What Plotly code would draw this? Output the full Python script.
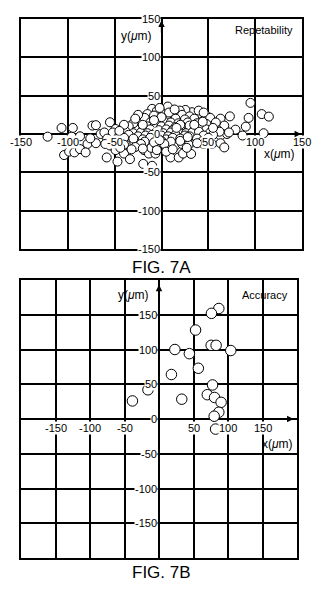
import plotly.graph_objects as go

# ---------------- data ----------------
rep_x = [95, 107, 114.6, 93, 73, 63, 90, 109, 79, 86.5, 55.7, 67, 63, 70, 41.5, 32.6, 25.5, 19.5, 39.7, 6.7,
         -10, -5, -15, -8,
         -121.6, -106.7, -94.7, -73.7, -70, -55, -65, -61, -49, -42, -27.7, -22, -96, -87, -79, -70, -76,
         -104, -98.6, -93, -87, -81, -58.5, -55, -47, -49, -40, -33.7, -34.5, -29, -19.5, -10, -18.7, -13.5,
         -6.5, -11, -4.7, 6, 9.6, 18.4, 23, 15, 22, 31.6, 29, 34, 54, 63, 67,
         2, 12, 22, 30, 48,
         -25, -18, -2, 5, 15, 25, 35, 45, 52,
         -30, -12, -5, 3, 10, 18, 28, 38, 48,
         -35, -15, -8, 0, 8, 15, 22, 30, 42,
         -20, -12, -3, 5, 12, 20, 35, 48, 60,
         -52, -38, -30, -22, -15, -6, 2, 10, 18, 26, 33, 40, 52, 62, 72,
         -45, -35, -25, -17, -10, 0, 7, 15, 25, 30, 45, 55,
         -58, -48, -40, -30, -20, -12, -4, 5, 12, 20, 38, 50,
         -45, -18, -8, 0, 10, 20, 44,
         -60, -50, -40, -22, 3, 29, 45,
         -44, -28, -20, 27,
         -5, 5,
         -25, -20, -28, 45, 58, 8, 14, -2, 0, 20, -8, 35, 44, -40, -45, 55, 28, 38, -32, 12, -2, 16]
rep_y = [40.6, 26, 22.7, 21, 23, 20, 9.6, 1, 5.7, -2, 11, 11, -2, 0, 26, 28.4, 31.4, 30.5, 30.5, 35.8,
         32.8, 30, 26, 24,
         -3.5, 7.9, 7.9, 11, 11.5, 15.3, 0, 2, 6.5, 7, 8.7, 15, -3.5, -3, -13, -12, -5.7,
         -27.5, -23, -24, -19.7, -24, -30.6, -15, -36, -21, -25.5, -32.8, -15, -11.5, -39, -41.5, -21, -25.5,
         -25.5, -18, -15.7, -17.5, -30.6, -30.6, -25.5, -15, -13, -26, -8, -10, -13, -12, -17.5,
         26, 24, 25, 23, 24,
         19, 21, 19, 21, 20, 19, 20, 18, 21,
         14, 15, 14, 16, 15, 14, 15, 14, 13,
         10, 10, 9, 10, 11, 9, 10, 11, 9,
         5, 6, 5, 6, 5, 6, 5, 6, 5,
         2, 3, 1, 2, 1, 2, 1, 2, 3, 1, 2, 3, 2, 3, 2,
         -2, -1, -3, -2, -1, -2, -3, -1, -2, -3, -2, -1,
         -6, -7, -5, -6, -7, -5, -6, -7, -5, -6, -6, -5,
         -10, -10, -11, -9, -10, -9, -9,
         -13, -12, -14, -13, -13, -14, -13,
         -18, -17, -19, -18,
         -21, -23,
         25, 12, 20, 28, 15, 28, 32, 34, 22, 12, 18, 12, 16, 12, 4, 8, -4, -12, -20, -20, -8, 8]

acc_x = [86.7, 76, 53, 75.6, 82.8, 104, 23, 44, 57, 18, 77.6, 70, 80.5, 90, 33, -38.5, 86.7, 80, 82, -16]
acc_y = [159, 152, 128, 106, 106, 98.5, 100, 94, 73, 64, 49, 35, 31, 24, 28.5, 26, 9.7, 4, -14.5, 42]

top_xticks = [-150, -100, -50, 50, 100, 150]
top_yticks = [150, 100, 50, 0, -50, -100, -150]
bot_xticks = [-150, -100, -50, 50, 100, 150]
bot_yticks = [150, 100, 50, 0, -50, -100, -150]

FONT = "Liberation Sans, Arial, sans-serif"

fig = go.Figure()
fig.add_trace(go.Scatter(x=rep_x, y=rep_y, mode="markers", xaxis="x", yaxis="y",
                         marker=dict(size=9, color="white", line=dict(color="black", width=1)),
                         showlegend=False, hoverinfo="skip"))
fig.add_trace(go.Scatter(x=acc_x, y=acc_y, mode="markers", xaxis="x2", yaxis="y2",
                         marker=dict(size=10.5, color="white", line=dict(color="black", width=1)),
                         showlegend=False, hoverinfo="skip"))

def ax(rng, dom, anchor):
    return dict(range=rng, domain=dom, anchor=anchor, dtick=50, tick0=0,
                showgrid=True, gridcolor="black", gridwidth=1.6,
                zeroline=True, zerolinecolor="black", zerolinewidth=1.6,
                showline=True, mirror=True, linecolor="black", linewidth=2,
                showticklabels=False, ticks="", fixedrange=True)

layout = dict(
    width=322, height=596, margin=dict(l=0, r=0, t=0, b=0),
    paper_bgcolor="white", plot_bgcolor="white",
    font=dict(family=FONT, size=11, color="black"),
    xaxis=ax([-150, 150], [21/322, 302/322], "y"),
    yaxis=ax([-150, 150], [1-249/596, 1-19/596], "x"),
    xaxis2=ax([-200, 200], [21/322, 297/322], "y2"),
    yaxis2=ax([-200, 200], [1-558/596, 1-280/596], "x2"),
)

ann = []
def label(text, x, y, xr, yr, **kw):
    d = dict(text=text, x=x, y=y, xref=xr, yref=yr, showarrow=False,
             font=dict(family=FONT, size=11, color="black"), bgcolor="white", borderpad=0)
    d.update(kw)
    ann.append(d)

# top chart tick labels
for v in top_xticks:
    label(str(v), v, 0, "x", "y", xanchor="center", yanchor="middle", yshift=-8)
for v in top_yticks:
    label(str(v), 0, v, "x", "y", xanchor="right", yanchor="middle", xshift=-1)
# bottom chart tick labels
for v in bot_xticks:
    label(str(v), v, 0, "x2", "y2", xanchor="center", yanchor="middle", yshift=-9)
for v in bot_yticks:
    label(str(v), 0, v, "x2", "y2", xanchor="right", yanchor="middle", xshift=-1)

# axis titles and chart names
ann.append(dict(text="y(<i>μ</i>m)", x=-8, y=128, xref="x", yref="y", showarrow=False,
                xanchor="right", yanchor="middle", font=dict(family=FONT, size=12)))
ann.append(dict(text="x(<i>μ</i>m)", x=145, y=-26, xref="x", yref="y", showarrow=False,
                xanchor="right", yanchor="middle", font=dict(family=FONT, size=12)))
ann.append(dict(text="Repetability", x=143, y=136, xref="x", yref="y", showarrow=False,
                xanchor="right", yanchor="middle", font=dict(family=FONT, size=11)))
ann.append(dict(text="y(<i>μ</i>m)", x=-11, y=178, xref="x2", yref="y2", showarrow=False,
                xanchor="right", yanchor="middle", font=dict(family=FONT, size=12)))
ann.append(dict(text="x(<i>μ</i>m)", x=197, y=-36, xref="x2", yref="y2", showarrow=False,
                xanchor="right", yanchor="middle", font=dict(family=FONT, size=12)))
ann.append(dict(text="Accuracy", x=190, y=178, xref="x2", yref="y2", showarrow=False,
                xanchor="right", yanchor="middle", font=dict(family=FONT, size=11)))
ann.append(dict(text="FIG. 7A", x=0.5, y=1-267/596, xref="paper", yref="paper", showarrow=False,
                xanchor="center", yanchor="middle", font=dict(family=FONT, size=17)))
ann.append(dict(text="FIG. 7B", x=0.5, y=1-572/596, xref="paper", yref="paper", showarrow=False,
                xanchor="center", yanchor="middle", font=dict(family=FONT, size=17)))

# axis arrowheads
def arrow(x, y, axv, ayv, xr, yr):
    ann.append(dict(text="", x=x, y=y, ax=axv, ay=ayv, xref=xr, yref=yr, axref=xr, ayref=yr,
                    showarrow=True, arrowhead=2, arrowsize=1, arrowwidth=1.3, arrowcolor="black"))
arrow(149, 0, 130, 0, "x", "y")
arrow(0, 148, 0, 130, "x", "y")
arrow(195, 0, 170, 0, "x2", "y2")
arrow(0, 193, 0, 170, "x2", "y2")

layout["annotations"] = ann
fig.update_layout(**layout)
fig.write_html("out.html")
